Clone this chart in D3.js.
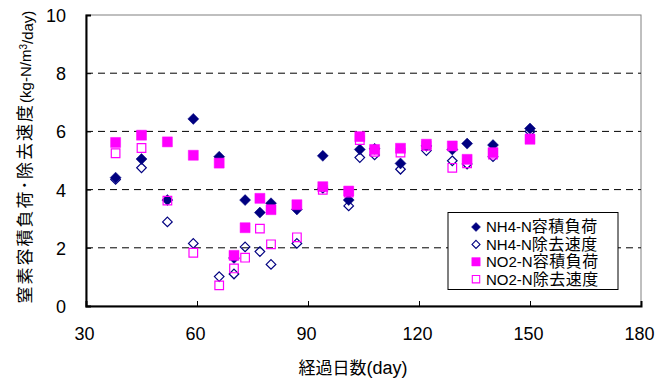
<!DOCTYPE html>
<html>
<head>
<meta charset="utf-8">
<script src="https://cdn.jsdelivr.net/npm/d3@7"></script>
<style>
  html, body { margin: 0; padding: 0; background: #fff; }
  svg text { font-family: "Liberation Sans", Arial, "Noto Sans CJK JP", sans-serif; fill: #000; }
  .cjk { font-family: "Noto Sans CJK JP", sans-serif; }
</style>
</head>
<body>
<svg id="chart" width="655" height="385"></svg>
<script>
// Elapsed days of each measurement
const days = [38, 45, 52, 59, 66, 70, 73, 77, 80, 87, 94, 101, 104, 108, 115, 122, 129, 133, 140, 150];

// Nitrogen rates (kg-N/m3/day)
const nh4Load    = [4.41, 5.05, 3.64, 6.43, 5.13, 1.65, 3.64, 3.21, 3.53, 3.32, 5.16, 3.64, 5.38, 5.40, 4.90, 5.50, 5.38, 5.58, 5.53, 6.10];
const nh4Removal = [4.35, 4.75, 2.89, 2.15, 1.01, 1.10, 2.03, 1.87, 1.43, 2.15, 4.05, 3.44, 5.10, 5.19, 4.70, 5.34, 4.99, 4.88, 5.13, 6.00];
const no2Load    = [5.62, 5.87, 5.64, 5.18, 4.91, 1.74, 2.69, 3.70, 3.31, 3.48, 4.10, 3.95, 5.82, 5.38, 5.42, 5.56, 5.50, 5.04, 5.27, 5.73];
const no2Removal = [5.25, 5.43, 3.62, 1.83, 0.71, 1.29, 1.66, 2.66, 2.12, 2.36, 3.99, 3.90, 5.70, 5.30, 5.27, 5.50, 4.75, 4.90, 5.20, 5.75];

const seriesPrefix = ["NH4-N", "NH4-N", "NO2-N", "NO2-N"];
const seriesSuffix = ["容積負荷", "除去速度", "容積負荷", "除去速度"];
const xTicks = [30, 60, 90, 120, 150, 180];
const yTicks = [0, 2, 4, 6, 8, 10];

const series = [
  { values: nh4Load,    shape: "diamond", filled: true,  color: "#000080" },
  { values: nh4Removal, shape: "diamond", filled: false, color: "#000080" },
  { values: no2Load,    shape: "square",  filled: true,  color: "#FF00FF" },
  { values: no2Removal, shape: "square",  filled: false, color: "#FF00FF" }
];

const svg = d3.select("#chart");
const plotL = 86, plotR = 641, plotT = 15, plotB = 306;

const x = d3.scaleLinear().domain([30, 180]).range([plotL, plotR]);
const y = d3.scaleLinear().domain([0, 10]).range([plotB, plotT]);

// plot frame
svg.append("rect")
  .attr("x", plotL).attr("y", plotT)
  .attr("width", plotR - plotL).attr("height", plotB - plotT)
  .attr("fill", "none").attr("stroke", "#808080").attr("stroke-width", 1);

// dashed gridlines
svg.append("g").selectAll("line")
  .data(yTicks.filter(v => v > 0 && v < 10))
  .join("line")
  .attr("x1", plotL).attr("x2", plotR)
  .attr("y1", d => y(d)).attr("y2", d => y(d))
  .attr("stroke", "#000").attr("stroke-width", 1)
  .attr("stroke-dasharray", "7,5");

// axes
const xAxis = d3.axisBottom(x).tickValues(xTicks).tickSize(-5).tickFormat(d3.format("d"));
const yAxis = d3.axisLeft(y).tickValues(yTicks).tickSize(-5).tickFormat(d3.format("d"));

const gx = svg.append("g").attr("transform", `translate(0,${plotB})`).call(xAxis);
const gy = svg.append("g").attr("transform", `translate(${plotL},0)`).call(yAxis);

[gx, gy].forEach(g => {
  g.select(".domain").attr("stroke", "#000").attr("stroke-width", 2);
  g.selectAll(".tick line").attr("stroke", "#000").attr("stroke-width", 1);
  g.selectAll(".tick text").style("font-size", "18px").attr("fill", "#000");
});
gx.selectAll(".tick text").attr("y", 34).attr("dy", 0).attr("dx", -2);
gy.selectAll(".tick text").attr("x", -20).attr("dy", "0.36em");

// markers
const diamond = s => `M0,${-s}L${s},0L0,${s}L${-s},0Z`;
const square = s => `M${-s},${-s}H${s}V${s}H${-s}Z`;
function markerPath(shape, filled) {
  if (shape === "diamond") return filled ? diamond(5.5) : diamond(4.8);
  return filled ? square(5) : square(4.3);
}

series.forEach(s => {
  svg.append("g").selectAll("path")
    .data(days.map((d, i) => [d, s.values[i]]))
    .join("path")
    .attr("transform", d => `translate(${x(d[0])},${y(d[1])})`)
    .attr("d", markerPath(s.shape, s.filled))
    .attr("fill", s.filled ? s.color : "none")
    .attr("stroke", s.color)
    .attr("stroke-width", s.filled ? 0.5 : 1.2);
});

// legend
const lg = svg.append("g");
lg.append("rect")
  .attr("x", 448).attr("y", 212.5).attr("width", 170).attr("height", 77)
  .attr("fill", "#fff").attr("stroke", "#000").attr("stroke-width", 1);
series.forEach((s, i) => {
  const cy = 227 + i * 17.4;
  lg.append("path")
    .attr("transform", `translate(476,${cy})`)
    .attr("d", s.shape === "diamond" ? (s.filled ? diamond(4.5) : diamond(4)) : (s.filled ? square(4.2) : square(3.7)))
    .attr("fill", s.filled ? s.color : "none")
    .attr("stroke", s.color)
    .attr("stroke-width", s.filled ? 0.5 : 1.1);
  const t = lg.append("text")
    .attr("x", 486).attr("y", cy).attr("dy", "0.36em")
    .style("font-size", "15px");
  t.append("tspan").text(seriesPrefix[i]);
  t.append("tspan").attr("class", "cjk").style("font-size", "16px").style("letter-spacing", "0.5px").text(seriesSuffix[i]);
});

// axis titles
const xt = svg.append("text")
  .attr("x", 353).attr("y", 374)
  .attr("text-anchor", "middle");
xt.append("tspan").attr("class", "cjk").style("font-size", "17px").text("経過日数");
xt.append("tspan").style("font-size", "18px").text("(day)");

const yt = svg.append("text")
  .attr("transform", "translate(31,157) rotate(-90)")
  .attr("text-anchor", "middle")
  .style("font-size", "15px");
yt.append("tspan").attr("class", "cjk").style("font-size", "17px").style("letter-spacing", "2px").text("窒素容積負荷･除去速度");
yt.append("tspan").text("(kg-N/m");
yt.append("tspan").attr("dy", "-0.45em").style("font-size", "10px").text("3");
yt.append("tspan").attr("dy", "0.45em").text("/day)");
</script>
</body>
</html>
